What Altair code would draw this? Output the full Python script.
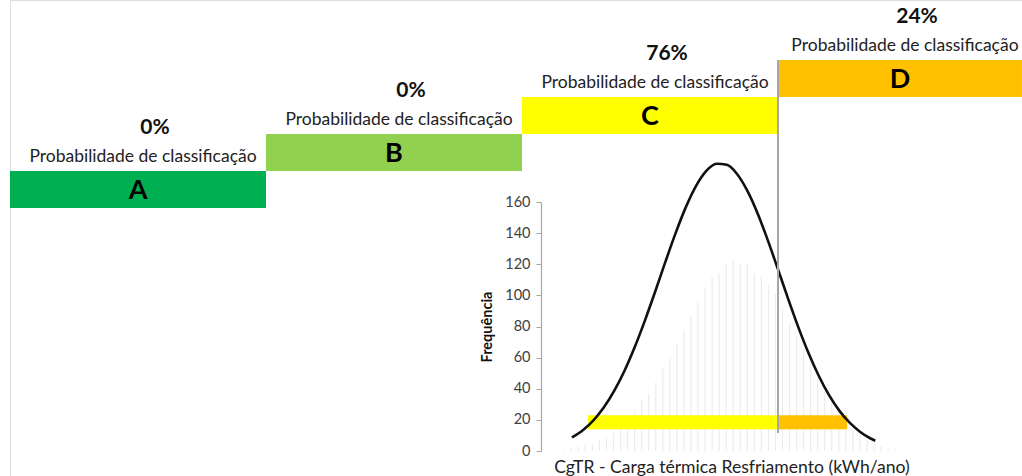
import altair as alt
import pandas as pd

# Energy-efficiency classes and their CgTR ranges (kWh/ano)
classes = ["A", "B", "C", "D"]
class_min = [0, 100, 200, 300]
class_max = [100, 200, 300, 395.3]
class_step = [1, 2, 3, 4]          # staircase level of each class bar
class_prob = [0, 0, 76, 24]        # probability of classification (%)
class_colors = ["#00b050", "#92d050", "#ffff00", "#ffc000"]

# Simulated CgTR histogram (bin centres, counts)
hist_x = [211, 213.75, 216.5, 219.25, 222, 224.75, 227.5, 230.25, 233, 235.75,
          238.5, 241.25, 244, 246.75, 249.5, 252.25, 255, 257.75, 260.5, 263.25,
          266, 268.75, 271.5, 274.25, 277, 279.75, 282.5, 285.25, 288, 290.75,
          293.5, 296.25, 299, 301.75, 304.5, 307.25, 310, 312.75, 315.5, 318.25,
          321, 323.75, 326.5, 329.25, 332, 334.75, 337.5, 340.25, 343, 345.75]
hist_count = [1, 1, 1, 2, 3, 4, 5, 7, 9, 12,
              16, 20, 26, 33, 37, 44, 53, 60, 69, 78,
              87, 96, 105, 112, 114, 121, 123, 120, 121, 114,
              112, 107, 101, 92, 82, 74, 65, 56, 47, 39,
              32, 25, 19, 14, 10, 7, 5, 3, 2, 1]

# Fitted normal curve
curve_x = [219.5, 224, 228, 232, 236, 240, 244, 248, 252, 256, 260, 264, 268, 272,
           276, 280, 284, 288, 292, 296, 300, 304, 308, 312, 316, 320, 324, 328,
           332, 336, 338]
curve_y = [8.7, 13.7, 19.9, 28.1, 38.6, 51.4, 66.6, 83.8, 102.3, 121.5, 140.0,
           156.7, 170.4, 180.0, 184.6, 183.9, 178.0, 167.3, 152.8, 135.5, 116.7,
           97.6, 79.3, 62.6, 48.0, 35.7, 25.8, 18.2, 12.4, 8.2, 6.6]

# Range of simulated results split by class
band_class = ["C", "D"]
band_start = [225.8, 300]
band_end = [300, 327]
band_low = 14
band_high = 23

# Class C / D limit
limit_x = 300
limit_low = 11.6
limit_high = 251.2

y_ticks = [0, 20, 40, 60, 80, 100, 120, 140, 160]
x_title = "CgTR - Carga térmica Resfriamento (kWh/ano)"

FONT = "Lato"

classes_df = pd.DataFrame({
    "classe": classes,
    "x0": class_min,
    "x1": class_max,
    "base": class_step,
    "topo": [s + 1 for s in class_step],
    "meio": [s + 0.5 for s in class_step],
    "centro": [(a + b) / 2 for a, b in zip(class_min, class_max)],
    "prob": [f"{p}%" for p in class_prob],
    "rotulo": ["Probabilidade de classificação"] * len(classes),
})
hist_df = pd.DataFrame({"x": hist_x, "n": hist_count})
curve_df = pd.DataFrame({"x": curve_x, "y": curve_y})
band_df = pd.DataFrame({"classe": band_class, "x0": band_start, "x1": band_end,
                        "lo": [band_low] * 2, "hi": [band_high] * 2})
limit_df = pd.DataFrame({"x": [limit_x], "lo": [limit_low], "hi": [limit_high]})
title_df = pd.DataFrame({"x": [282], "y": [-11], "t": [x_title]})

xscale = alt.Scale(domain=[0, 395.3125], nice=False, zero=False)
class_color = alt.Color("classe:N", scale=alt.Scale(domain=classes, range=class_colors),
                        legend=None)
level_scale = alt.Scale(domain=[1, 5], range=[208, 60], nice=False, zero=False)

# ---- classification staircase ----
top_base = alt.Chart(classes_df)
steps = top_base.mark_rect().encode(
    x=alt.X("x0:Q", scale=xscale, axis=None),
    x2="x1:Q",
    y=alt.Y("base:Q", scale=level_scale, axis=None),
    y2="topo:Q",
    color=class_color,
)
letters = top_base.mark_text(font=FONT, fontWeight="bold", fontSize=27,
                             color="#000000", baseline="middle", dy=1).encode(
    x=alt.X("centro:Q", scale=xscale, axis=None),
    y=alt.Y("meio:Q", scale=level_scale, axis=None),
    text="classe:N",
)
labels = top_base.mark_text(font=FONT, fontSize=17.5, color="#222222",
                            baseline="middle", dy=-14, dx=5).encode(
    x=alt.X("centro:Q", scale=xscale, axis=None),
    y=alt.Y("topo:Q", scale=level_scale, axis=None),
    text="rotulo:N",
)
probs = top_base.mark_text(font=FONT, fontWeight="bold", fontSize=21,
                           color="#111111", baseline="middle", dy=-43, dx=17).encode(
    x=alt.X("centro:Q", scale=xscale, axis=None),
    y=alt.Y("topo:Q", scale=level_scale, axis=None),
    text="prob:N",
)
top = alt.layer(steps, letters, labels, probs)

# ---- histogram panel ----
freq_scale = alt.Scale(domain=[0, 160], range=[451, 202], nice=False, zero=False)
freq_axis = alt.Axis(
    values=y_ticks, offset=-531, grid=False,
    domainColor="#a6a6a6", domainWidth=1.2, tickColor="#a6a6a6", tickSize=5,
    labelFont=FONT, labelFontSize=14.5, labelColor="#404040", labelPadding=6,
    title="Frequência", titleFont=FONT, titleFontSize=14.5, titleFontWeight="bold",
    titleColor="#111111", titlePadding=10,
)

hist = alt.Chart(hist_df).mark_rule(color="#ececec", strokeWidth=1.2).encode(
    x=alt.X("x:Q", scale=xscale, axis=None),
    y=alt.Y("n:Q", scale=freq_scale, axis=freq_axis),
    y2=alt.Y2(datum=0),
)
band = alt.Chart(band_df).mark_rect().encode(
    x=alt.X("x0:Q", scale=xscale, axis=None),
    x2="x1:Q",
    y=alt.Y("lo:Q", scale=freq_scale),
    y2="hi:Q",
    color=class_color,
)
limit = alt.Chart(limit_df).mark_rule(color="#a6a6a6", strokeWidth=2).encode(
    x=alt.X("x:Q", scale=xscale, axis=None),
    y=alt.Y("lo:Q", scale=freq_scale),
    y2="hi:Q",
)
curve = alt.Chart(curve_df).mark_line(color="#111111", strokeWidth=2.6,
                                      interpolate="monotone").encode(
    x=alt.X("x:Q", scale=xscale, axis=None),
    y=alt.Y("y:Q", scale=freq_scale),
)
xlabel = alt.Chart(title_df).mark_text(font=FONT, fontSize=17.6, color="#222222",
                                       baseline="middle").encode(
    x=alt.X("x:Q", scale=xscale, axis=None),
    y=alt.Y("y:Q", scale=freq_scale),
    text="t:N",
)
panel = alt.layer(hist, band, curve, limit, xlabel)

chart = alt.layer(top, panel).resolve_scale(y="independent").properties(
    width=1012,
    height=476,
    autosize=alt.AutoSizeParams(type="none"),
    padding={"left": 10, "top": 0, "right": 0, "bottom": 0},
).configure_view(stroke=None).configure(background="#ffffff")

chart.save("out.html", embed_options={"renderer": "svg", "actions": False})
